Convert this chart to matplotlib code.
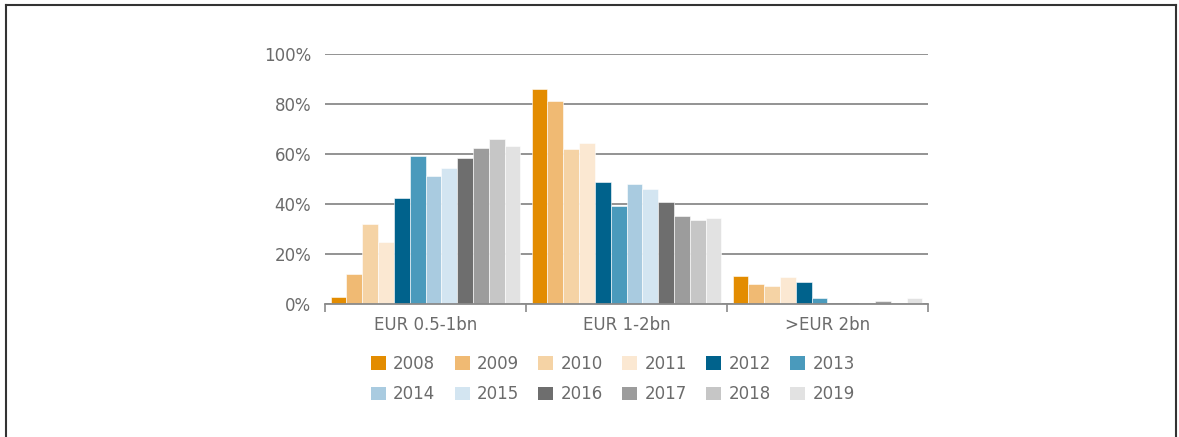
import matplotlib.pyplot as plt
from matplotlib.lines import Line2D
from matplotlib.patches import Patch
import numpy as np

plt.rcParams['font.family'] = ['DejaVu Sans']

# data (share of deals, %)
categories = ["EUR 0.5-1bn", "EUR 1-2bn", ">EUR 2bn"]
years = ["2008", "2009", "2010", "2011", "2012", "2013",
         "2014", "2015", "2016", "2017", "2018", "2019"]
small = [3, 12, 32, 25, 42.5, 59.3, 51.3, 54.5, 58.5, 62.5, 65.9, 63.3]
mid = [86, 81.2, 61.9, 64.3, 48.9, 39.3, 48.1, 45.9, 40.8, 35.3, 33.7, 34.5]
large = [11.2, 8, 7.2, 11, 8.8, 2.4, 0, 0, 0.6, 1.4, 0.5, 2.4]
colors = ["#E38C00", "#F0BA73", "#F5D3A5", "#FBE8D2", "#00628C", "#4A9ABC",
          "#A9CBE0", "#D3E5F1", "#6E6E6E", "#9C9C9C", "#C6C6C6", "#E2E2E2"]

text_col = "#6b6b6b"
grid_col = "#8a8a8a"

fig = plt.figure(figsize=(11.79, 4.37), dpi=100)
ax = fig.add_axes([325 / 1179, 1 - 304 / 437, 603 / 1179, 250 / 437])

values = np.array([small, mid, large])  # shape (groups, years)
n = len(years)
width = 0.945 / n
x = np.arange(len(categories))
for i, yr in enumerate(years):
    ax.bar(x - 0.945 / 2 + width * (i + 0.5), values[:, i], width,
           color=colors[i], edgecolor="white", linewidth=0.4, zorder=3)

ax.set_xlim(-0.5, 2.5)
ax.set_ylim(0, 100)
ax.set_yticks(range(0, 101, 20))
ax.set_yticklabels([f"{v}%" for v in range(0, 101, 20)])
ax.yaxis.grid(True, color=grid_col, linewidth=1.3, zorder=0)
ax.tick_params(axis="y", length=0, pad=10, labelsize=12, labelcolor=text_col)

# category labels centred, ticks on group boundaries
ax.set_xticks([-0.5, 0.5, 1.5, 2.5])
ax.set_xticklabels([])
ax.set_xticks(x, minor=True)
ax.set_xticklabels(categories, minor=True)
ax.tick_params(axis="x", which="major", length=6, color=grid_col, width=1.2)
ax.tick_params(axis="x", which="minor", length=0, pad=9, labelsize=12,
               labelcolor=text_col)

for s in ["top", "right", "left"]:
    ax.spines[s].set_visible(False)
ax.spines["bottom"].set_color(grid_col)
ax.spines["bottom"].set_linewidth(1.3)
ax.spines["bottom"].set_zorder(4)

# legend filled row by row (matplotlib fills by column)
handles = [Patch(facecolor=c, edgecolor="none") for c in colors]
order = [r * 6 + c for c in range(6) for r in range(2)]
leg = fig.legend([handles[k] for k in order], [years[k] for k in order],
                 loc="center", ncol=6,
                 bbox_to_anchor=(613 / 1179, 1 - 379 / 437),
                 frameon=False, fontsize=12, handlelength=0.9,
                 handleheight=0.9, handletextpad=0.45, columnspacing=1.15,
                 labelspacing=0.75)
for t in leg.get_texts():
    t.set_color(text_col)

# thin frame around the figure (open at the bottom)
fc = "#333333"
fig.add_artist(Line2D([6 / 1179, 1176 / 1179], [1 - 5 / 437] * 2,
                      color=fc, linewidth=1.5, transform=fig.transFigure))
fig.add_artist(Line2D([6 / 1179] * 2, [0, 1 - 5 / 437],
                      color=fc, linewidth=1.5, transform=fig.transFigure))
fig.add_artist(Line2D([1176 / 1179] * 2, [0, 1 - 5 / 437],
                      color=fc, linewidth=1.5, transform=fig.transFigure))

fig.savefig("out.png", dpi=100)
